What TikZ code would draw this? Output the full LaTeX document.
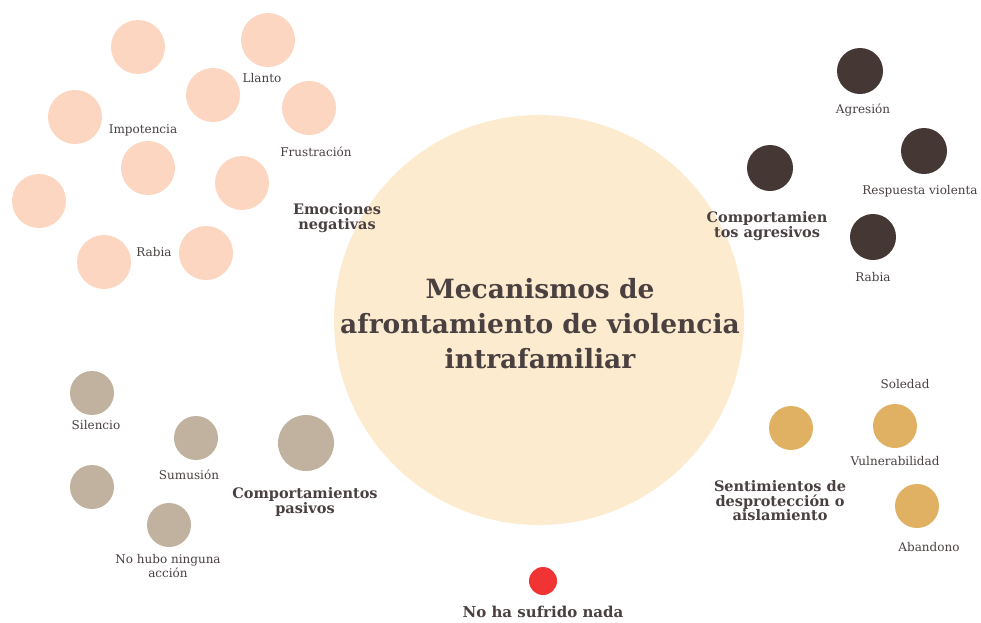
\documentclass[tikz,border=0pt]{standalone}
\usepackage{fontspec}
\setmainfont{DejaVu Serif}
\definecolor{bigc}{HTML}{FDEBD0}
\definecolor{peach}{HTML}{FCD6C0}
\definecolor{darkb}{HTML}{453734}
\definecolor{taupe}{HTML}{C1B19F}
\definecolor{gold}{HTML}{E0B163}
\definecolor{redc}{HTML}{F03333}
\definecolor{txt}{HTML}{4A4040}
\tikzset{
  dot/.style={circle, draw=none, inner sep=0pt, minimum size=#1},
  pe/.style={dot=54pt, fill=peach},
  db/.style={dot=46pt, fill=darkb},
  tp/.style={dot=44pt, fill=taupe},
  gd/.style={dot=44pt, fill=gold},
  lbl/.style={text=txt, font=\fontsize{12}{14}\selectfont, inner sep=0pt, align=center},
  grp/.style={text=txt, font=\fontsize{14.5}{14.5}\selectfont\bfseries, inner sep=0pt, align=center},
  ttl/.style={text=txt, font=\fontsize{26.5}{35}\selectfont\bfseries, inner sep=0pt, align=center}
}
\begin{document}
\begin{tikzpicture}[x=1pt,y=-1pt]
\useasboundingbox (0,0) rectangle (981,622);
\fill[white] (0,0) rectangle (981,622);
% central circle
\node[dot=410pt, fill=bigc] (center) at (539,320) {};
\node[ttl] (title) at (540,324) {Mecanismos de\\afrontamiento de violencia\\intrafamiliar};
% Emociones negativas
\node[pe] (p1) at (138,47) {};
\node[pe] (p2) at (268,40) {};
\node[pe] (p3) at (213,95) {};
\node[pe] (p4) at (309,108) {};
\node[pe] (p5) at (75,117) {};
\node[pe] (p6) at (148,168) {};
\node[pe] (p7) at (242,183) {};
\node[pe] (p8) at (39,201) {};
\node[pe] (p9) at (104,262) {};
\node[pe] (p10) at (206,253) {};
\node[lbl] (llanto) at (262,78) {Llanto};
\node[lbl] (impot) at (143,130) {Impotencia};
\node[lbl] (frus) at (316,152) {Frustración};
\node[lbl] (rabia1) at (154,252) {Rabia};
\node[grp] (emo) at (337,218) {Emociones\\negativas};
% Comportamientos agresivos
\node[db] (d1) at (860,71) {};
\node[db] (d2) at (924,151) {};
\node[db] (d3) at (770,168) {};
\node[db] (d4) at (873,237) {};
\node[lbl] (agres) at (863,110) {Agresión};
\node[lbl] (resp) at (920,191) {Respuesta violenta};
\node[lbl] (rabia2) at (873,277) {Rabia};
\node[grp] (agr) at (767,226) {Comportamien\\tos agresivos};
% Comportamientos pasivos
\node[tp] (t1) at (92,393) {};
\node[tp] (t2) at (196,438) {};
\node[tp] (t3) at (92,487) {};
\node[tp] (t4) at (169,525) {};
\node[dot=56pt, fill=taupe] (t5) at (306,443) {};
\node[lbl] (sil) at (96,425) {Silencio};
\node[lbl] (sum) at (189,475) {Sumusión};
\node[lbl] (nohubo) at (168,566) {No hubo ninguna\\acción};
\node[grp] (pas) at (305,502) {Comportamientos\\pasivos};
% Sentimientos
\node[gd] (g1) at (791,428) {};
\node[gd] (g2) at (895,426) {};
\node[gd] (g3) at (917,506) {};
\node[lbl] (sol) at (905,384) {Soledad};
\node[lbl] (vul) at (895,461) {Vulnerabilidad};
\node[lbl] (aban) at (929,547) {Abandono};
\node[grp] (sent) at (780,501) {Sentimientos de\\desprotección o\\aislamiento};
% No ha sufrido nada
\node[dot=28pt, fill=redc] (r1) at (543,581) {};
\node[grp, font=\fontsize{15}{15}\selectfont\bfseries] (nada) at (543,612) {No ha sufrido nada};
\end{tikzpicture}
\end{document}
